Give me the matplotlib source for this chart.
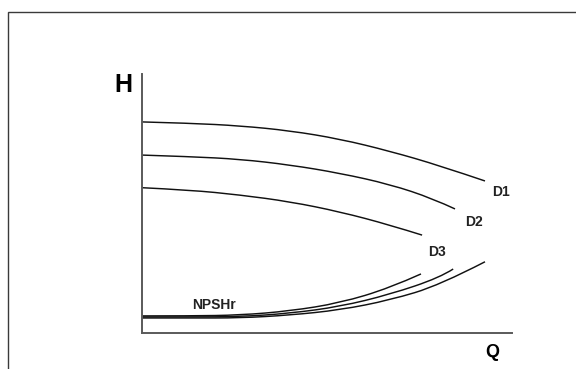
import matplotlib
matplotlib.use("Agg")
import matplotlib.pyplot as plt
from matplotlib.patches import Rectangle, PathPatch
from matplotlib.path import Path

# Flow (Q) and head (H), both on a 0-100 scale
q_d1 = [0, 13.0, 26.5, 40.0, 53.5, 67.0, 80.5, 92.7]
h_d1 = [81.5, 81.0, 80.0, 78.1, 74.9, 70.2, 64.6, 58.7]

q_d2 = [0, 13.0, 26.5, 40.0, 53.5, 67.0, 78.6, 84.6]
h_d2 = [68.7, 68.1, 67.1, 64.9, 61.7, 57.4, 51.9, 47.9]

q_d3 = [0, 13.0, 26.5, 40.0, 53.5, 67.0, 75.7]
h_d3 = [56.1, 55.2, 53.3, 50.7, 46.8, 41.7, 37.8]

# NPSHr curves, one per impeller diameter
q_npsh1 = [0, 13.0, 26.5, 40.0, 53.5, 67.0, 80.5, 92.7]
h_npsh1 = [5.8, 5.8, 5.8, 6.9, 8.9, 12.7, 18.5, 27.5]

q_npsh2 = [0, 13.0, 26.5, 40.0, 53.5, 67.0, 80.5, 84.1]
h_npsh2 = [6.2, 6.2, 6.3, 7.6, 10.2, 14.9, 21.4, 24.7]

q_npsh3 = [0, 13.0, 26.5, 40.0, 53.5, 67.0, 75.4]
h_npsh3 = [6.6, 6.6, 6.9, 8.5, 11.6, 17.4, 22.8]

curve_labels = ["D1", "D2", "D3"]


def smooth_curve(ax, xs, ys, **kw):
    """Draw a smooth quadratic-bezier path through the read points."""
    pts = list(zip(xs, ys))
    verts = [pts[0]]
    codes = [Path.MOVETO]
    for i in range(1, len(pts) - 1):
        mid = ((pts[i][0] + pts[i + 1][0]) / 2, (pts[i][1] + pts[i + 1][1]) / 2)
        if i == len(pts) - 2:
            mid = pts[-1]
        verts += [pts[i], mid]
        codes += [Path.CURVE3, Path.CURVE3]
    patch = PathPatch(Path(verts, codes), fill=False, transform=ax.transData,
                      capstyle='butt', **kw)
    ax.add_patch(patch)


def main():
    plt.rcParams['font.family'] = ['Liberation Sans', 'DejaVu Sans']

    fig = plt.figure(figsize=(5.76, 3.69), dpi=100)

    # outer frame, cut off at the right and bottom edges like the original
    frame = Rectangle((8 / 576, -0.2), 1.2, 0.2 + (369 - 12) / 369,
                      transform=fig.transFigure, fill=False,
                      edgecolor='#3a3a3a', linewidth=1.0)
    fig.patches.append(frame)

    ax = fig.add_axes([142 / 576, 36 / 369, 370 / 576, 259 / 369])
    ax.set_xlim(0, 100)
    ax.set_ylim(0, 100)

    line_kw = dict(edgecolor='#111111', linewidth=1.05)
    smooth_curve(ax, q_d1, h_d1, **line_kw)
    smooth_curve(ax, q_d2, h_d2, **line_kw)
    smooth_curve(ax, q_d3, h_d3, **line_kw)
    smooth_curve(ax, q_npsh1, h_npsh1, **line_kw)
    smooth_curve(ax, q_npsh2, h_npsh2, **line_kw)
    smooth_curve(ax, q_npsh3, h_npsh3, **line_kw)

    # diameter labels just past the end of each head curve
    label_pos = [(97.0, 54.4), (89.7, 42.9), (79.7, 31.3)]
    for name, (x, y) in zip(curve_labels, label_pos):
        ax.text(x, y, name, fontsize=10, fontweight='bold', color='#222222',
                ha='center', va='center')

    ax.text(19.5, 10.8, "NPSHr", fontsize=10, fontweight='bold',
            color='#222222', ha='center', va='center')

    ax.text(-0.051, 0.958, "H", transform=ax.transAxes, fontsize=18,
            fontweight='bold', ha='center', va='center')
    ax.text(0.946, -0.077, "Q", transform=ax.transAxes, fontsize=13,
            fontweight='bold', ha='center', va='center')

    for side in ['top', 'right']:
        ax.spines[side].set_visible(False)
    for side in ['left', 'bottom']:
        ax.spines[side].set_color('#5a5a5a')
        ax.spines[side].set_linewidth(1.4)
    ax.set_xticks([])
    ax.set_yticks([])
    ax.patch.set_alpha(0)

    fig.savefig('out.png', dpi=100)
    plt.close(fig)


if __name__ == "__main__":
    main()
